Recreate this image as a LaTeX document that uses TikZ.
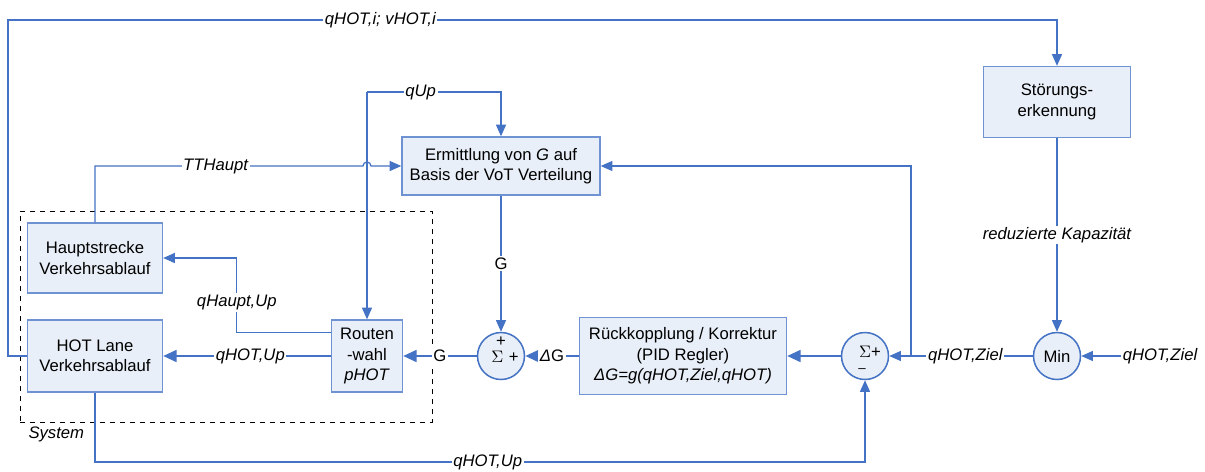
\documentclass[tikz,border=0pt]{standalone}
\usepackage{fontspec}
\setmainfont{Liberation Sans}
\usepackage{xcolor}
\usepackage{tikz}
\usetikzlibrary{arrows.meta,calc}
\definecolor{lnblue}{RGB}{68,114,196}
\definecolor{boxfill}{RGB}{233,239,248}
\definecolor{boxline}{RGB}{110,146,210}

\begin{document}
\begin{tikzpicture}[x=0.6pt, y=-0.6pt,
  blk/.style={draw=boxline, fill=boxfill, line width=0.8pt, align=center, font=\fontsize{10}{12.3}\selectfont, inner sep=1pt},
  sumc/.style={circle, draw=lnblue, fill=boxfill, line width=0.9pt, minimum size=28.2pt, inner sep=0pt, font=\fontsize{10}{12}\selectfont},
  sgn/.style={inner sep=0pt, font=\fontsize{10}{12}\selectfont},
  sig/.style={draw=lnblue, line width=0.75pt, -{Triangle[length=7pt,width=6pt]}},
  sigth/.style={sig, line width=1.5pt, -{Triangle[length=8pt,width=7pt]}},
  lbl/.style={fill=white, inner sep=1pt, font=\fontsize{10}{12}\selectfont\itshape},
  lblup/.style={lbl, font=\fontsize{10}{12}\selectfont}]
\useasboundingbox (0,0) rectangle (1205,471);
\node[draw, dashed, line width=0.6pt, minimum width=247.2pt, minimum height=126.6pt] (sys) at (226,316.5) {};
\node[lbl, fill=none, anchor=north west] (systxt) at ([shift={(7,2)}]sys.south west) {System};
% Bloecke
\node[blk, minimum width=88.2pt, minimum height=42.6pt] (stoer) at (1057,102) {Störungs-\\erkennung};
\node[blk, minimum width=118.8pt, minimum height=34.8pt] (ermitt) at (501,166) {Ermittlung von \textit{G} auf\\Basis der VoT Verteilung};
\node[blk, minimum width=81pt, minimum height=42pt] (haupt) at (95,258) {Hauptstrecke\\Verkehrsablauf};
\node[blk, minimum width=81pt, minimum height=43.2pt] (hot) at (95,356) {HOT Lane\\Verkehrsablauf};
\node[blk, minimum width=42.6pt, minimum height=43.2pt] (route) at (367,356) {Routen\\-wahl\\\textit{pHOT}};
\node[blk, minimum width=124.2pt, minimum height=46.2pt] (rueck) at (683,356) {Rückkopplung / Korrektur\\(PID Regler)\\\textit{ΔG=g(qHOT,Ziel,qHOT)}};
\node[sumc] (sum1) at (501,356) {};
\node[sumc] (sum2) at (865,356) {};
\node[sumc] (min) at (1057,356) {Min};
\node[sgn] (s1top) at ([shift={(0,-14)}]sum1.center) {+};
\node[sgn] (s1sig) at ([shift={(4,1)}]sum1.center) {$\Sigma$\,\,+};
\node[sgn] (s2sig) at ([shift={(5,-4)}]sum2.center) {$\Sigma$+};
\node[sgn, font=\fontsize{8}{10}\selectfont] (s2neg) at ([shift={(-3,15)}]sum2.center) {--};
% Signale
\coordinate (topl) at (8,20);
\draw[sig] (hot.west) -- (hot.west -| topl) -- (topl) -- node[lbl, pos=.355]{qHOT,i; vHOT,i} (topl -| stoer.north) -- (stoer.north);
\draw[sig] (stoer) -- node[lbl]{reduzierte Kapazität} (min);
\node[lbl] (zielin) at (1160,356) {qHOT,Ziel};
\draw[sig] (zielin) -- (min);
\draw[sig] (min) -- node[lbl, pos=.47]{qHOT,Ziel} (sum2);
\coordinate (br) at (911,356);
\draw[sig] (br) |- (ermitt.east);
\draw[sigth] (sum2) -- (rueck);
\draw[sigth] (rueck) -- node[lbl]{Δ\textup{G}} (sum1);
\draw[sig] (ermitt) -- node[lblup]{G} (sum1);
\draw[sigth] (sum1) -- node[lblup]{G} (route);
\draw[sigth] (route) -- node[lbl, pos=.48]{qHOT,Up} (hot);
\draw[sig] ([yshift=-7.8pt]route.north west) -- ++(-94,0) |- node[lbl, pos=.2]{qHaupt,Up} (haupt.east);
\draw[sig] (haupt.north) -- (haupt.north |- ermitt.west) -- node[lbl, pos=.45]{TTHaupt} ++(268,0) arc[start angle=180, end angle=0, radius=2.4pt] -- (ermitt.west);
\coordinate (qupc) at (367,92);
\draw[sig] (qupc) -- (route.north);
\draw[sig] (qupc) -| node[lbl, pos=.2]{qUp} (ermitt.north);
\coordinate (botl) at (95,462);
\draw[sig] (hot.south) -- (botl) -- node[lbl, pos=.51]{qHOT,Up} (botl -| sum2.south) -- (sum2.south);
\end{tikzpicture}
\end{document}
